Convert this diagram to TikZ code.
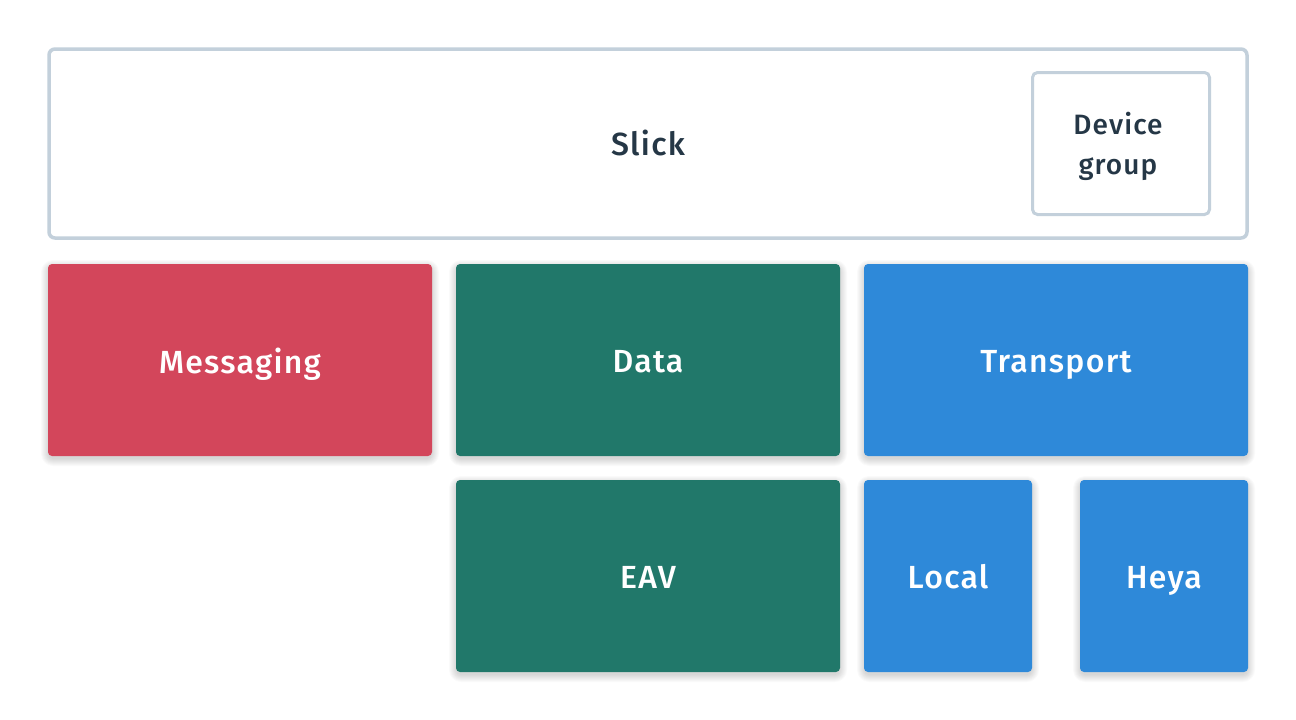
\documentclass[tikz,border=0pt]{standalone}
\usepackage{fontspec}
\setmainfont{Fira Sans Medium}[LetterSpace=4]
\definecolor{outline}{HTML}{C3D0DB}
\definecolor{ink}{HTML}{253746}
\definecolor{redbox}{HTML}{D3465B}
\definecolor{greenbox}{HTML}{21786A}
\definecolor{bluebox}{HTML}{2E89D9}
\newcommand{\mytileshadow}[4]{%
  \foreach \s in {1,...,8}{%
    \fill[black, opacity=0.018, rounded corners=4pt+\s pt]
      ({#1-\s+1},{#2-\s+4}) rectangle ({#3+\s-1},{#4+\s+2});
  }%
}
\tikzset{
  x=1pt, y=-1pt,
  tile/.style={rounded corners=4pt},
  tiletext/.style={text=white, anchor=base, font=\fontsize{32}{36}\selectfont},
}
\begin{document}
\begin{tikzpicture}
\useasboundingbox (0,0) rectangle (1296,720);
\fill[white] (0,0) rectangle (1296,720);
% Slick container
\draw[outline, line width=3.5pt, rounded corners=6pt, fill=white] (49,49) rectangle (1247,238);
\node[text=ink, anchor=base, font=\fontsize{32}{36}\selectfont] (slick) at (648,155) {Slick};
\draw[outline, line width=3pt, rounded corners=5pt] (1032.5,72.5) rectangle (1209.5,214.5);
\node[text=ink, align=center, font=\fontsize{28}{40}\selectfont] (dev) at (1118,146) {Device\\group};
% shadows
\mytileshadow{48}{264}{432}{456}
\mytileshadow{456}{264}{840}{456}
\mytileshadow{864}{264}{1248}{456}
\mytileshadow{456}{480}{840}{672}
\mytileshadow{864}{480}{1032}{672}
\mytileshadow{1080}{480}{1248}{672}
% tiles
\fill[redbox, tile] (48,264) rectangle (432,456);
\node[tiletext] (msg) at (240,373) {Messaging};
\fill[greenbox, tile] (456,264) rectangle (840,456);
\node[tiletext] (data) at (648,372) {Data};
\fill[bluebox, tile] (864,264) rectangle (1248,456);
\node[tiletext] (transport) at (1056,372) {Transport};
\fill[greenbox, tile] (456,480) rectangle (840,672);
\node[tiletext] (eav) at (648,588) {EAV};
\fill[bluebox, tile] (864,480) rectangle (1032,672);
\node[tiletext] (local) at (948,588) {Local};
\fill[bluebox, tile] (1080,480) rectangle (1248,672);
\node[tiletext] (heya) at (1164,588) {Heya};
\end{tikzpicture}
\end{document}
